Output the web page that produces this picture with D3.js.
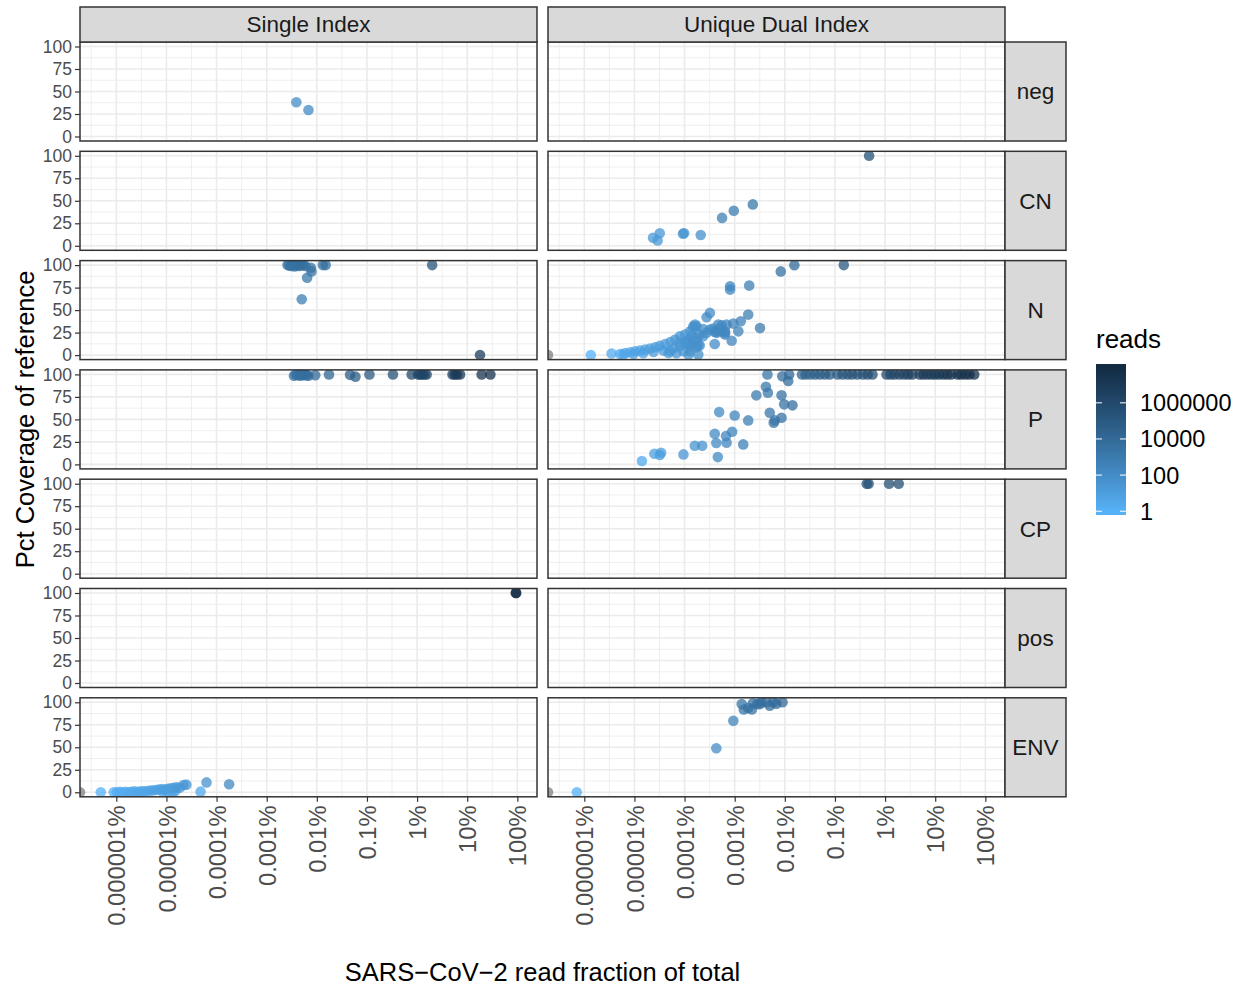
<!DOCTYPE html>
<html>
<head>
<meta charset="utf-8">
<script src="https://cdn.jsdelivr.net/npm/d3@7"></script>
<style>
  body { margin: 0; background: #fff; }
  svg { display: block; }
  text { font-family: "Liberation Sans", Arial, Helvetica, sans-serif; }
</style>
</head>
<body>
<svg id="chart" width="1242" height="987"></svg>
<script>
// ---- facets and axis labels ----
const facetRows = ["neg", "CN", "N", "P", "CP", "pos", "ENV"];
const facetCols = ["Single Index", "Unique Dual Index"];
const xTickValues = [1e-8, 1e-7, 1e-6, 1e-5, 1e-4, 1e-3, 1e-2, 1e-1, 1];
const xTickLabels = ["0.000001%", "0.00001%", "0.0001%", "0.001%", "0.01%", "0.1%", "1%", "10%", "100%"];
const yTickValues = [0, 25, 50, 75, 100];
const yMinorValues = [12.5, 37.5, 62.5, 87.5];
const legendTickValues = [1, 100, 10000, 1000000];
const legendTickLabels = ["1", "100", "10000", "1000000"];

// ---- samples: [SARS-CoV-2 read fraction of total, pct coverage of reference, reads] ----
const negSingle = [[3.9e-5, 38, 90], [6.8e-5, 29.5, 120]];
const negUDI = [];

const cnSingle = [];
const cnUDI = [
  [4.8e-3, 100, 3e5], [2.3e-5, 46, 1500], [9.6e-6, 39, 900], [5.6e-6, 31, 600],
  [2.1e-6, 12, 60], [9.3e-7, 13.5, 40], [9.8e-7, 14, 40], [3.2e-7, 14, 25],
  [2.35e-7, 9, 20], [2.9e-7, 6, 20]
];

const nSingle = [
  [2.6e-5, 100, 2500], [2.8e-5, 100, 2500], [3.0e-5, 99, 3000], [3.2e-5, 100, 3000],
  [3.4e-5, 100, 3000], [3.6e-5, 98.5, 3500], [3.9e-5, 100, 3500], [4.2e-5, 100, 3500],
  [4.5e-5, 99, 4000], [4.9e-5, 100, 4000], [5.4e-5, 100, 4000], [5.9e-5, 99, 4500],
  [7.6e-5, 97, 3000], [7.8e-5, 93, 3000], [6.4e-5, 86, 1500], [5.0e-5, 62, 600],
  [1.32e-4, 100, 5000], [1.5e-4, 100, 5000], [2.0e-2, 100, 2e5], [0.18, 0, 5e6]
];
const nUDI = [
  [0, 0, 0], [1.35e-8, 0, 1], [3.5e-8, 1.7, 2], [5.2e-8, 1.3, 3], [6.0e-8, 0.6, 3],
  [6.6e-8, 2.4, 4], [8.3e-8, 3.1, 5], [9.6e-8, 1.3, 5], [1.03e-7, 4.3, 6], [1.29e-7, 5, 7],
  [1.5e-7, 2, 8], [1.63e-7, 6.1, 9], [2.05e-7, 7.2, 10], [2.4e-7, 3.5, 12], [2.6e-7, 8.7, 12],
  [3.2e-7, 10.2, 15], [3.8e-7, 5, 16], [4.1e-7, 12.4, 18], [4.8e-7, 2.4, 20], [5.2e-7, 14.6, 20],
  [5.2e-7, 4.3, 20], [6.0e-7, 7.2, 25], [6.5e-7, 17.2, 25], [6.9e-7, 2, 25], [8.1e-7, 20.9, 30],
  [8.1e-7, 9.8, 30], [8.1e-7, 13.5, 30], [9.5e-7, 4.3, 35], [1.02e-6, 22.8, 35], [1.02e-6, 14.6, 35],
  [1.1e-6, 12.4, 40], [1.2e-6, 17.2, 40], [1.2e-6, 11.7, 40], [1.2e-6, 0.6, 40], [1.29e-6, 26.4, 45],
  [1.29e-6, 4.3, 45], [1.39e-6, 20.9, 50], [1.39e-6, 9.8, 50], [1.5e-6, 32, 50], [1.5e-6, 15.4, 50],
  [1.5e-6, 30, 50], [1.62e-6, 33.9, 55], [1.74e-6, 19.1, 60], [1.74e-6, 8.7, 60], [1.74e-6, 32, 60],
  [1.88e-6, 11.7, 60], [1.88e-6, 0.6, 60], [2.0e-6, 22.8, 70], [2.0e-6, 10.6, 70], [2.35e-6, 20.9, 80],
  [2.35e-6, 29, 80], [2.75e-6, 24.7, 90], [2.75e-6, 42, 90], [3.2e-6, 28.3, 100], [3.2e-6, 46.9, 100],
  [3.7e-6, 29.4, 120], [4.0e-6, 25.8, 120], [4.0e-6, 12.4, 120], [4.4e-6, 26.4, 130], [4.4e-6, 24.7, 130],
  [4.7e-6, 33.9, 140], [5.1e-6, 29.4, 150], [5.5e-6, 33, 150], [5.5e-6, 26.4, 150], [6.4e-6, 26.4, 180],
  [6.4e-6, 22.8, 180], [6.4e-6, 24.7, 180], [6.9e-6, 33.9, 200], [8.1e-6, 76.5, 250], [8.1e-6, 72.8, 250],
  [8.7e-6, 16, 250], [9.4e-6, 35, 300], [1.18e-5, 26.4, 350], [1.32e-5, 37.6, 400], [1.86e-5, 45, 600],
  [1.95e-5, 77.2, 600], [3.2e-5, 30, 1000], [8.3e-5, 93, 4000], [1.55e-4, 99.8, 8000], [1.5e-3, 100, 1e5]
];

const pSingle = [
  [3.5e-5, 98.5, 3000], [3.8e-5, 100, 3000], [4.1e-5, 99, 3500], [4.4e-5, 100, 3500],
  [4.7e-5, 98.5, 4000], [5.1e-5, 100, 4000], [5.5e-5, 99, 4500], [5.9e-5, 100, 5000],
  [6.3e-5, 99, 5000], [6.8e-5, 98.5, 5500], [9.3e-5, 99, 1e4], [1.75e-4, 100, 2e4],
  [4.6e-4, 99.5, 5e4], [5.9e-4, 97.5, 6e4], [1.12e-3, 100, 1e5], [3.3e-3, 100, 3e5],
  [7.8e-3, 100, 8e5], [1.05e-2, 100, 1.5e6], [1.15e-2, 100, 1.5e6], [1.26e-2, 100, 2e6],
  [1.4e-2, 100, 2e6], [1.55e-2, 100, 2e6], [5.1e-2, 100, 6e6], [5.7e-2, 100, 7e6],
  [6.3e-2, 100, 7e6], [7.2e-2, 100, 8e6], [0.194, 100, 2e7], [0.29, 100, 3e7]
];
const pUDI = [
  [1.41e-7, 3.7, 3], [2.5e-7, 11.9, 8], [3.2e-7, 10.4, 10], [3.4e-7, 13, 12],
  [9.5e-7, 11.1, 30], [1.6e-6, 20.7, 40], [2.25e-6, 20.7, 50], [4.0e-6, 34.1, 150],
  [4.3e-6, 23.7, 120], [4.6e-6, 8.1, 150], [4.9e-6, 58.1, 150], [6.7e-6, 31.5, 200],
  [6.9e-6, 24.1, 200], [8.9e-6, 36.3, 300], [1.0e-5, 54.4, 300], [1.48e-5, 22.2, 500],
  [1.86e-5, 48.9, 600], [2.7e-5, 76.7, 1000], [4.2e-5, 86.3, 1500], [4.6e-5, 79.6, 1500],
  [5.0e-5, 57.4, 1800], [6.0e-5, 46.3, 2000], [6.3e-5, 48.9, 2000], [8.6e-5, 76.7, 3000],
  [8.6e-5, 51.9, 3000], [9.7e-5, 66.7, 3000], [1.42e-4, 65.6, 5000],
  [4.5e-5, 100, 2000], [8.9e-5, 98, 5000], [1.17e-4, 92.6, 6000], [1.22e-4, 100, 8000],
  [2.2e-4, 100, 2e4], [2.6e-4, 100, 2.5e4], [3.2e-4, 100, 3e4], [4.0e-4, 100, 4e4],
  [5.0e-4, 100, 5e4], [6.3e-4, 100, 6e4], [7.9e-4, 100, 8e4], [1.13e-3, 100, 1e5],
  [1.42e-3, 100, 1.3e5], [1.79e-3, 100, 1.6e5], [2.2e-3, 100, 2e5], [2.8e-3, 100, 2.5e5],
  [3.6e-3, 100, 3e5], [4.5e-3, 100, 4e5], [5.6e-3, 100, 5e5], [1.07e-2, 100, 1e6],
  [1.29e-2, 100, 1.2e6], [1.55e-2, 100, 1.5e6], [1.94e-2, 100, 2e6], [2.4e-2, 100, 2.5e6],
  [2.9e-2, 100, 3e6], [3.5e-2, 100, 3.5e6], [4.9e-2, 100, 5e6], [5.8e-2, 100, 6e6],
  [7.0e-2, 100, 7e6], [8.4e-2, 100, 8e6], [0.1, 100, 1e7], [0.12, 100, 1.2e7],
  [0.146, 100, 1.5e7], [0.175, 100, 1.8e7], [0.21, 100, 2e7], [0.28, 100, 2.5e7],
  [0.33, 100, 3e7], [0.40, 100, 3.5e7], [0.48, 100, 4e7], [0.60, 100, 5e7]
];

const cpSingle = [];
const cpUDI = [[4.3e-3, 100, 2e5], [4.7e-3, 100, 2e5], [1.2e-2, 100, 4e5], [1.87e-2, 100, 5e5]];

const posSingle = [[0.93, 100, 8.7e7], [0.95, 100, 8e7]];
const posUDI = [];

const envSingle = [
  [0, 0, 0], [4.9e-9, 0, 1], [8.9e-9, 0, 1], [1.02e-8, 0, 2], [1.17e-8, 0.5, 2],
  [1.34e-8, 0, 2], [1.54e-8, 0.5, 2], [1.77e-8, 0, 3], [2.0e-8, 0.5, 3], [2.3e-8, 1, 3],
  [2.7e-8, 0.5, 4], [3.1e-8, 1, 4], [3.5e-8, 1, 5], [4.1e-8, 1.5, 5], [4.7e-8, 2, 6],
  [5.3e-8, 2, 6], [6.1e-8, 2.5, 7], [7.0e-8, 3, 8], [8.1e-8, 3.5, 9], [8.5e-8, 0.5, 6],
  [9.2e-8, 3, 10], [1.06e-7, 4, 12], [1.1e-7, 1, 8], [1.21e-7, 4.5, 14], [1.3e-7, 0, 6],
  [1.39e-7, 5, 16], [1.5e-7, 1.5, 10], [1.6e-7, 5.5, 18], [1.83e-7, 5, 20], [2.2e-7, 8, 25],
  [2.5e-7, 8.5, 28], [4.8e-7, 0.7, 3], [6.3e-7, 11, 50], [1.78e-6, 8.9, 180]
];
const envUDI = [
  [0, 0, 0], [7.1e-9, 0, 1], [4.3e-6, 49, 100], [9.4e-6, 79.4, 300],
  [1.38e-5, 98, 2000], [1.52e-5, 92, 2000], [1.86e-5, 93.6, 3000], [2.2e-5, 92, 3000],
  [2.3e-5, 99, 3500], [2.8e-5, 98, 4000], [3.2e-5, 98, 4000], [3.4e-5, 100, 5000],
  [4.3e-5, 100, 6000], [5.0e-5, 96.3, 6000], [5.9e-5, 100, 7000], [6.8e-5, 98.5, 8000],
  [9.0e-5, 100, 1e4]
];

const facetData = {
  "neg|Single Index": negSingle, "neg|Unique Dual Index": negUDI,
  "CN|Single Index": cnSingle, "CN|Unique Dual Index": cnUDI,
  "N|Single Index": nSingle, "N|Unique Dual Index": nUDI,
  "P|Single Index": pSingle, "P|Unique Dual Index": pUDI,
  "CP|Single Index": cpSingle, "CP|Unique Dual Index": cpUDI,
  "pos|Single Index": posSingle, "pos|Unique Dual Index": posUDI,
  "ENV|Single Index": envSingle, "ENV|Unique Dual Index": envUDI
};

// ---- layout ----
const svg = d3.select("#chart");
svg.append("rect").attr("width", 1242).attr("height", 987).attr("fill", "#fff");

const panelW = 457, panelH = 99;
const colLeft = [80, 548];
const rowTop = facetRows.map((_, i) => 42 + i * 109.3);
const stripTopY = 7, stripTopH = 35, stripRightW = 61;

// ---- scales (log x with 5% padding on the log range, shared by all panels) ----
const allPts = Object.values(facetData).flat();
const logs = allPts.filter(d => d[0] > 0).map(d => Math.log10(d[0]));
const lo = d3.min(logs), hi = d3.max(logs), pad = (hi - lo) * 0.05;
const x = d3.scaleLog().domain([10 ** (lo - pad), 10 ** (hi + pad)]).range([0, panelW]);
const y = d3.scaleLinear().domain([-5, 105]).range([panelH, 0]);

const readsMax = d3.max(allPts, d => d[2]);
const colour = d3.scaleLog().domain([1, readsMax])
  .range(["#56B1F7", "#132B43"]).interpolate(d3.interpolateLab);
const naColour = "#7F7F7F";

// minor x grid: half-decade positions inside the domain
const [dLo, dHi] = x.domain().map(Math.log10);
const xMinorValues = d3.range(Math.floor(dLo), Math.ceil(dHi) + 1)
  .map(k => k + 0.5).filter(k => k > dLo && k < dHi).map(k => 10 ** k);

const defs = svg.append("defs");
const gridColour = "#EBEBEB", borderColour = "#333333";

facetRows.forEach((rowName, r) => {
  facetCols.forEach((colName, c) => {
    const g = svg.append("g").attr("transform", `translate(${colLeft[c]},${rowTop[r]})`);
    const clipId = `clip-${r}-${c}`;
    defs.append("clipPath").attr("id", clipId)
      .append("rect").attr("width", panelW).attr("height", panelH);

    g.append("rect").attr("width", panelW).attr("height", panelH).attr("fill", "#fff");

    // minor grid
    g.selectAll(".xminor").data(xMinorValues).join("line")
      .attr("x1", d => x(d)).attr("x2", d => x(d)).attr("y1", 0).attr("y2", panelH)
      .attr("stroke", gridColour).attr("stroke-width", 0.8);
    g.selectAll(".yminor").data(yMinorValues).join("line")
      .attr("x1", 0).attr("x2", panelW).attr("y1", d => y(d)).attr("y2", d => y(d))
      .attr("stroke", gridColour).attr("stroke-width", 0.8);
    // major grid
    g.selectAll(".xmajor").data(xTickValues).join("line")
      .attr("x1", d => x(d)).attr("x2", d => x(d)).attr("y1", 0).attr("y2", panelH)
      .attr("stroke", gridColour).attr("stroke-width", 1.6);
    g.selectAll(".ymajor").data(yTickValues).join("line")
      .attr("x1", 0).attr("x2", panelW).attr("y1", d => y(d)).attr("y2", d => y(d))
      .attr("stroke", gridColour).attr("stroke-width", 1.6);

    // points (zero fraction sits on the left edge, like -Inf)
    const pts = facetData[`${rowName}|${colName}`];
    g.append("g").attr("clip-path", `url(#${clipId})`)
      .selectAll("circle").data(pts).join("circle")
      .attr("cx", d => d[0] > 0 ? x(d[0]) : 0)
      .attr("cy", d => y(d[1]))
      .attr("r", 5.3)
      .attr("fill", d => d[2] > 0 ? colour(d[2]) : naColour)
      .attr("fill-opacity", 0.75);

    g.append("rect").attr("width", panelW).attr("height", panelH)
      .attr("fill", "none").attr("stroke", borderColour).attr("stroke-width", 1.5);

    // top strips
    if (r === 0) {
      const s = svg.append("g").attr("transform", `translate(${colLeft[c]},${stripTopY})`);
      s.append("rect").attr("width", panelW).attr("height", stripTopH)
        .attr("fill", "#D9D9D9").attr("stroke", borderColour).attr("stroke-width", 1.5);
      s.append("text").attr("x", panelW / 2).attr("y", stripTopH / 2).attr("dy", "0.35em")
        .attr("text-anchor", "middle").attr("font-size", 22.5).attr("fill", "#1A1A1A").text(colName);
    }
    // right strips
    if (c === facetCols.length - 1) {
      const s = svg.append("g").attr("transform", `translate(${colLeft[c] + panelW},${rowTop[r]})`);
      s.append("rect").attr("width", stripRightW).attr("height", panelH)
        .attr("fill", "#D9D9D9").attr("stroke", borderColour).attr("stroke-width", 1.5);
      s.append("text").attr("x", stripRightW / 2).attr("y", panelH / 2).attr("dy", "0.35em")
        .attr("text-anchor", "middle").attr("font-size", 22.5).attr("fill", "#1A1A1A").text(rowName);
    }

    // y axis on the first column
    if (c === 0) {
      const ax = g.append("g").call(d3.axisLeft(y).tickValues(yTickValues).tickSize(5).tickPadding(3));
      ax.select(".domain").remove();
      ax.attr("font-family", null).attr("font-size", null);
      ax.selectAll("line").attr("stroke", borderColour).attr("stroke-width", 1.2);
      ax.selectAll("text").attr("font-size", 17.5).attr("fill", "#4D4D4D");
    }
    // x axis on the bottom row
    if (r === facetRows.length - 1) {
      const ax = g.append("g").attr("transform", `translate(0,${panelH})`)
        .call(d3.axisBottom(x).tickValues(xTickValues).tickFormat((d, i) => xTickLabels[i]).tickSize(5));
      ax.select(".domain").remove();
      ax.attr("font-family", null).attr("font-size", null);
      ax.selectAll("line").attr("stroke", borderColour).attr("stroke-width", 1.2);
      ax.selectAll("text")
        .attr("transform", "rotate(-90)")
        .attr("x", -8.5).attr("y", 0).attr("dy", "0.36em")
        .attr("text-anchor", "end")
        .attr("font-size", 23.8).attr("fill", "#4D4D4D");
    }
  });
});

// ---- axis titles ----
svg.append("text")
  .attr("x", (colLeft[0] + colLeft[1] + panelW) / 2).attr("y", 981)
  .attr("text-anchor", "middle").attr("font-size", 25.5).attr("fill", "#000")
  .text("SARS\u2212CoV\u22122 read fraction of total");
svg.append("text")
  .attr("transform", `translate(34,${(rowTop[0] + rowTop[facetRows.length - 1] + panelH) / 2}) rotate(-90)`)
  .attr("text-anchor", "middle").attr("font-size", 25.5).attr("fill", "#000")
  .text("Pct Coverage of reference");

// ---- colour legend ----
const barX = 1096, barY = 364, barW = 30, barH = 151;
const inset = barH / 40;
const legendY = d3.scaleLog().domain([1, readsMax]).range([barY + barH - inset, barY + inset]);

const grad = defs.append("linearGradient").attr("id", "readsGrad")
  .attr("x1", 0).attr("y1", 0).attr("x2", 0).attr("y2", 1);
const lMax = Math.log10(readsMax);
d3.range(0, 41).map(i => 10 ** (lMax * (1 - i / 40))).forEach(v => {
  grad.append("stop").attr("offset", (legendY(v) - barY) / barH).attr("stop-color", colour(v));
});

svg.append("text").attr("x", barX).attr("y", 348).attr("font-size", 26).attr("fill", "#000").text("reads");
svg.append("rect").attr("x", barX).attr("y", barY).attr("width", barW).attr("height", barH)
  .attr("fill", "url(#readsGrad)");
const lt = svg.append("g");
lt.selectAll(".tl").data(legendTickValues).join("line")
  .attr("x1", barX).attr("x2", barX + 6).attr("y1", d => legendY(d)).attr("y2", d => legendY(d))
  .attr("stroke", "#fff").attr("stroke-width", 1);
lt.selectAll(".tr").data(legendTickValues).join("line")
  .attr("x1", barX + barW - 6).attr("x2", barX + barW).attr("y1", d => legendY(d)).attr("y2", d => legendY(d))
  .attr("stroke", "#fff").attr("stroke-width", 1);
lt.selectAll("text").data(legendTickValues).join("text")
  .attr("x", barX + barW + 14).attr("y", d => legendY(d)).attr("dy", "0.36em")
  .attr("font-size", 23.5).attr("fill", "#000")
  .text((d, i) => legendTickLabels[i]);
</script>
</body>
</html>
